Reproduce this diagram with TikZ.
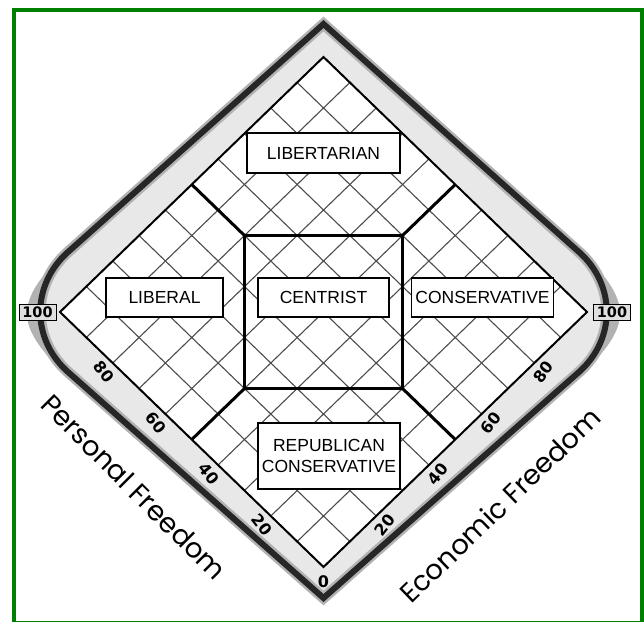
\documentclass[tikz,border=0pt]{standalone}
\usepackage{fontspec}
\setmainfont{Liberation Sans}
\newfontfamily\axisfont{Poppins}
\newfontfamily\tickfont{DejaVu Sans}
\usepackage{tikz}
\usetikzlibrary{calc}

\begin{document}
\begin{tikzpicture}[x=1pt,y=-1pt,
    box/.style={draw,fill=white,line width=1.2pt,inner sep=0pt,align=center,font=\fontsize{17.5}{21.5}\selectfont},
    tick/.style={inner sep=0pt,font=\tickfont\bfseries\fontsize{16}{16}\selectfont},
    hundred/.style={draw,fill=gray!25,line width=1pt,inner sep=0pt,minimum width=37pt,minimum height=16pt,font=\tickfont\bfseries\fontsize{14.5}{14.5}\selectfont},
    axis/.style={inner sep=0pt,font=\axisfont\fontsize{27.5}{27.5}\selectfont},
    grid/.style={gray!60!black,line width=1.1pt}]
    \useasboundingbox (0,0) rectangle (644,621);
    \coordinate (T) at (323.5,57);
    \coordinate (L) at (60,312);
    \coordinate (B) at (323.5,567);
    \coordinate (R) at (587,312);
    \fill[gray!18] (323.5,24) -- (68,252) .. controls (31,285) and (31,339) .. (68,372) -- (323.5,598) -- (579,372) .. controls (616,339) and (616,285) .. (579,252) -- cycle;
    \fill[gray!60] (112,213) .. controls (60,255) and (26,285) .. (27,315) .. controls (28,345) and (70,380) .. (100,400) -- (68,372) .. controls (31,339) and (31,285) .. (68,252) -- cycle;
    \fill[gray!60] (535,213) .. controls (587,255) and (621,285) .. (620,315) .. controls (619,345) and (577,380) .. (547,400) -- (579,372) .. controls (616,339) and (616,285) .. (579,252) -- cycle;
    \foreach \w/\c in {11/gray!60,6/black!85}
      \draw[line width=\w pt,\c] (323.5,24) -- (68,252) .. controls (31,285) and (31,339) .. (68,372) -- (323.5,598) -- (579,372) .. controls (616,339) and (616,285) .. (579,252) -- cycle;
    \fill[white] (T) -- (L) -- (B) -- (R) -- cycle;
    \foreach \i in {1,...,9} {
      \draw[grid] ($(B)!\i/10!(L)$) -- ($(R)!\i/10!(T)$);
      \draw[grid] ($(B)!\i/10!(R)$) -- ($(L)!\i/10!(T)$);
    }
    \draw[line width=2pt] (T) -- (L) -- (B) -- (R) -- cycle;
    \coordinate (sqtl) at (244.5,235.5);
    \coordinate (sqtr) at (402.5,235.5);
    \coordinate (sqbl) at (244.5,388.5);
    \coordinate (sqbr) at (402.5,388.5);
    \coordinate (tl) at ($(T)!.5!(L)$);
    \coordinate (tr) at ($(T)!.5!(R)$);
    \coordinate (bl) at ($(B)!.5!(L)$);
    \coordinate (br) at ($(B)!.5!(R)$);
    \draw[line width=3pt] (sqtl) rectangle (sqbr);
    \draw[line width=3pt] (sqtl) -- (tl) (sqtr) -- (tr) (sqbl) -- (bl) (sqbr) -- (br);
    \node[box,minimum width=153pt,minimum height=40pt] (libertarian) at (323.5,153) {LIBERTARIAN};
    \node[box,minimum width=131pt,minimum height=39pt] (centrist) at (323.5,297.5) {CENTRIST};
    \node[box,minimum width=117pt,minimum height=39pt] (liberal) at (164.5,297.5) {LIBERAL};
    \node[box,minimum width=142pt,minimum height=39pt] (conservative) at (482.5,297.5) {CONSERVATIVE};
    \node[box,minimum width=142pt,minimum height=66pt] (repcons) at (329,456) {REPUBLICAN\\CONSERVATIVE};
    \foreach \n/\f in {20/.2,40/.4,60/.6,80/.8} {
      \node[tick,rotate=-52] (pf\n) at ($(B)!\f!(L)+(-9,9)$) {\n};
      \node[tick,rotate=52] (ef\n) at ($(B)!\f!(R)+(9,9)$) {\n};
    }
    \node[tick] (zero) at ($(B)+(0,15)$) {0};
    \node[hundred] (pf100) at ($(L)+(-22.5,0.5)$) {100};
    \node[hundred] (ef100) at ($(R)+(25,0.5)$) {100};
    \node[axis,rotate=-45] (personal) at (134,487) {Personal Freedom};
    \node[axis,rotate=44] (economic) at (500,505) {Economic Freedom};
    \draw[green!50!black,line width=4pt] (14,9.5) rectangle (642,622.5);
\end{tikzpicture}
\end{document}
